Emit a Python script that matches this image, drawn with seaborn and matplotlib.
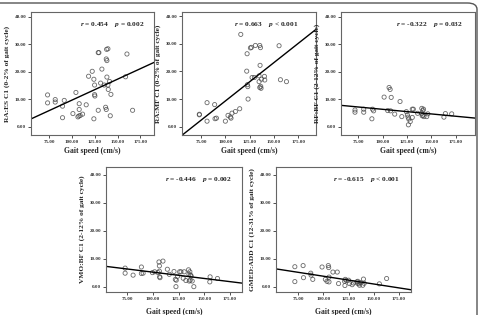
import numpy as np
import pandas as pd
import matplotlib
matplotlib.use("Agg")
import matplotlib.pyplot as plt
from matplotlib.patches import FancyBboxPatch
import seaborn as sns

# gait speed (cm/s) and co-contraction index
ra_es_speed = [73.2, 73.2, 81.6, 81.6, 89.6, 91.5, 89.6, 101.0, 104.3, 107.9, 107.9,
               107.6, 106.5, 109.0, 111.6, 115.6, 118.2, 122.2, 124.0, 124.8, 124.8,
               125.1, 124.0, 128.8, 129.5, 128.8, 131.4, 132.8, 135.4, 136.9, 137.6,
               138.3, 138.0, 139.4, 137.6, 138.3, 139.4, 139.8, 141.2, 142.0, 142.7,
               160.3, 158.8, 166.5]
ra_es_ci = [11.6, 8.7, 9.9, 9.0, 7.5, 9.6, 3.3, 4.8, 12.5, 8.4, 6.3,
            3.9, 3.6, 4.1, 4.6, 8.0, 18.4, 20.2, 17.3, 15.2, 11.7,
            11.2, 2.9, 27.0, 27.0, 6.0, 15.9, 21.0, 15.2, 7.1, 6.3,
            18.1, 28.2, 28.4, 24.7, 24.1, 15.2, 13.6, 16.5, 4.0, 11.8,
            26.5, 18.2, 6.0]

ra_mf_speed = [73.3, 73.3, 81.2, 81.2, 89.0, 89.4, 90.8, 100.0, 102.7, 105.1, 105.8,
               106.8, 110.3, 114.7, 115.8, 121.9, 122.3, 122.6, 123.0, 123.3, 125.7,
               126.7, 127.4, 129.8, 130.8, 135.3, 136.0, 135.6, 134.6, 134.6, 135.3,
               136.6, 136.3, 137.0, 140.1, 140.4, 155.1, 156.5, 162.7]
ra_mf_ci = [4.5, 4.3, 8.7, 2.0, 8.0, 2.9, 3.1, 2.0, 4.1, 3.5, 3.1,
            4.9, 5.5, 6.5, 33.4, 20.1, 26.4, 15.2, 14.5, 10.0, 28.5,
            28.7, 17.8, 17.8, 29.4, 29.4, 28.6, 22.2, 18.4, 16.3, 14.2,
            13.9, 14.6, 17.2, 18.2, 16.9, 29.3, 17.0, 16.3]

rf_bf_speed = [71.4, 71.4, 80.4, 80.4, 89.5, 90.6, 88.8, 101.4, 106.5, 107.6, 108.7,
               105.1, 108.0, 112.3, 117.8, 119.6, 124.3, 125.4, 126.1, 126.8, 126.4,
               128.3, 130.4, 131.5, 130.4, 135.9, 140.2, 141.3, 142.0, 139.9, 140.6,
               142.4, 141.3, 145.3, 146.4, 163.0, 164.5, 171.0]
rf_bf_ci = [6.1, 5.3, 6.4, 5.3, 6.4, 5.8, 2.9, 10.8, 14.3, 13.6, 10.7,
            5.9, 5.8, 4.6, 9.2, 3.7, 5.5, 4.3, 3.5, 2.8, 0.7,
            1.9, 6.4, 6.4, 3.4, 4.9, 6.7, 5.9, 6.4, 4.9, 4.0,
            3.7, 4.2, 3.7, 4.7, 3.5, 4.8, 4.7]

vmo_bf_speed = [72.7, 72.7, 80.5, 88.6, 88.6, 90.3, 99.4, 101.6, 104.9, 105.8, 106.2,
                106.2, 106.5, 106.8, 109.7, 114.0, 115.9, 120.5, 121.8, 122.4, 122.7,
                124.0, 126.0, 127.3, 129.5, 130.5, 132.1, 134.7, 135.1, 135.4, 136.0,
                136.7, 137.3, 136.4, 138.3, 139.9, 155.8, 155.5, 163.0]
vmo_bf_ci = [6.7, 4.9, 4.2, 7.1, 4.8, 4.9, 5.1, 5.4, 5.1, 8.9, 7.5,
             5.6, 3.6, 3.3, 9.2, 6.3, 4.5, 5.5, 2.7, 0.1, 2.4,
             3.8, 5.4, 5.4, 3.1, 5.4, 2.3, 6.1, 4.5, 2.1, 5.4,
             4.2, 3.9, 2.4, 2.1, 0.1, 3.6, 1.8, 3.0]

gmed_add_speed = [71.7, 71.7, 79.9, 80.3, 87.5, 87.8, 89.5, 98.7, 102.0, 103.6, 104.9,
                  105.3, 105.6, 105.6, 109.5, 113.8, 115.1, 121.1, 121.4, 121.7, 122.7,
                  125.0, 126.0, 128.6, 129.9, 133.2, 133.9, 134.2, 135.2, 135.9, 136.5,
                  139.1, 139.8, 140.5, 155.6, 162.8]
gmed_add_ci = [7.2, 1.9, 7.6, 3.3, 4.9, 4.2, 2.7, 7.1, 2.7, 2.0, 7.6,
               6.9, 3.5, 1.8, 5.3, 5.3, 1.2, 2.0, 0.5, 2.7, 2.3,
               2.4, 1.2, 0.8, 1.4, 1.8, 1.3, 2.0, 1.1, 0.6, 1.6,
               0.6, 2.8, 1.3, 1.1, 3.0]

ylabels = ["RA:ES C1 (0-2% of gait cycle)",
           "RA:MF C1 (0-2% of gait cycle)",
           "RF:BF C1 (2-12% of gait cycle)",
           "VMO:BF C1 (2-12% of gait cycle)",
           "GMED:ADD C1 (12-31% of gait cycle)"]
r_values = ["0.454", "0.663", "-0.322", "-0.446", "-0.615"]
p_values = ["= 0.002", "< 0.001", "= 0.032", "= 0.002", "< 0.001"]
xticks = [75, 100, 125, 150, 175]
yticks = [0, 10, 20, 30, 40]

panels = [(ra_es_speed, ra_es_ci), (ra_mf_speed, ra_mf_ci), (rf_bf_speed, rf_bf_ci),
          (vmo_bf_speed, vmo_bf_ci), (gmed_add_speed, gmed_add_ci)]

# axes boxes in pixels: left, right, top, bottom
boxes = [(31, 154, 12, 135), (182, 316, 12, 135), (341, 475, 12, 135),
         (106, 242, 167, 292), (276, 411, 167, 292)]
xlims = [(55, 190), (55.5, 193), (57, 195), (54, 187), (53, 187)]
ylims = [(-3, 41.8), (-3, 41.5), (-3, 41.8), (-1.8, 42.7), (-1.8, 42.7)]
text_x = [0.92, 0.87, 0.91, 0.93, 0.92]
xlabel_pad = [2, 2, 2, 5, 5]

sns.set_theme(style="ticks")
plt.rcParams["font.family"] = ["Liberation Serif", "DejaVu Serif"]
plt.rcParams["mathtext.fontset"] = "custom"
plt.rcParams["mathtext.it"] = "Liberation Serif:italic:bold"
plt.rcParams["mathtext.rm"] = "Liberation Serif:bold"

W, H = 480, 315
fig = plt.figure(figsize=(4.8, 3.15), dpi=100)

# rounded outer frame (left and bottom edges run off the image)
frame = FancyBboxPatch((-20 / W, -20 / H), (477 + 20) / W, (H - 3 + 20) / H,
                       boxstyle="round,pad=0,rounding_size=0.02",
                       transform=fig.transFigure, fill=False,
                       edgecolor="#555555", linewidth=1.0, clip_on=False)
fig.patches.append(frame)

for i, (xs, ys) in enumerate(panels):
    l, r, t, b = boxes[i]
    ax = fig.add_axes([l / W, 1 - b / H, (r - l) / W, (b - t) / H])
    ax.set_xlim(*xlims[i])
    ax.set_ylim(*ylims[i])
    df = pd.DataFrame({"speed": xs, "ci": ys})
    sns.regplot(data=df, x="speed", y="ci", ax=ax, ci=None, truncate=False,
                color="#222222",
                scatter_kws=dict(facecolors="none", edgecolors="#444444",
                                 s=9, linewidths=0.6),
                line_kws=dict(color="black", linewidth=1.0))
    ax.set_xlim(*xlims[i])
    ax.set_ylim(*ylims[i])
    ax.set_xticks(xticks)
    ax.set_yticks(yticks)
    ax.set_xticklabels([f"{v:.2f}" for v in xticks], fontsize=3.6, fontweight="bold")
    ax.set_yticklabels([f"{v:.2f}" for v in yticks], fontsize=3.6, fontweight="bold")
    ax.tick_params(length=2, width=0.6, pad=1.5, colors="#333333")
    for s in ax.spines.values():
        s.set_visible(True)
        s.set_color("#666666")
        s.set_linewidth(0.8)
    ax.set_xlabel("Gait speed (cm/s)", fontsize=5.5, fontweight="bold",
                  labelpad=xlabel_pad[i])
    ax.set_ylabel(ylabels[i], fontsize=5.3, fontweight="bold", labelpad=3)
    ax.text(text_x[i], 0.90,
            f"$r$ = {r_values[i]}    $p$ {p_values[i]}",
            transform=ax.transAxes, ha="right", va="center",
            fontsize=5.3, fontweight="bold")

fig.savefig("out.png", dpi=100)
